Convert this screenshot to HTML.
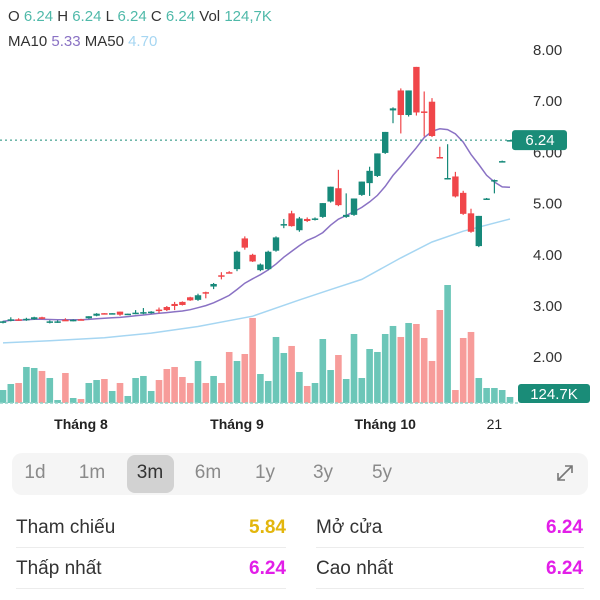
<!DOCTYPE html>
<html><head><meta charset="utf-8">
<style>
body{margin:0;width:600px;height:600px;background:#fff;font-family:"Liberation Sans",sans-serif;overflow:hidden;position:relative}
.abs{position:absolute}
.hdr{left:8px;font-size:15px;color:#333;white-space:nowrap}
.t{color:#4fb9a9}
.per{position:absolute;top:454px;font-size:19px;color:#8a8a8a;transform:translateX(-50%)}
.lab{position:absolute;font-size:19px;color:#333}
.val{position:absolute;font-size:19px;font-weight:bold;text-align:right}
.sep{position:absolute;height:1px;background:#ececec}
</style></head><body>
<div class="abs hdr" style="top:8px">O <span class="t">6.24</span> H <span class="t">6.24</span> L <span class="t">6.24</span> C <span class="t">6.24</span> Vol <span class="t">124,7K</span></div>
<div class="abs hdr" style="top:33px">MA10 <span style="color:#8a72c4">5.33</span> MA50 <span style="color:#a6d6f2">4.70</span></div>
<svg id="chart" class="abs" style="left:0;top:0" width="600" height="440"></svg>
<div class="abs" style="left:12px;top:453px;width:576px;height:42px;background:#f5f5f5;border-radius:10px"></div>
<div class="abs" style="left:127px;top:455px;width:47px;height:38px;background:#d2d2d2;border-radius:8px"></div>
<div class="per" style="left:35px;top:462px">1d</div>
<div class="per" style="left:92px;top:462px">1m</div>
<div class="per" style="left:150px;top:462px;color:#333">3m</div>
<div class="per" style="left:208px;top:462px">6m</div>
<div class="per" style="left:265px;top:462px">1y</div>
<div class="per" style="left:323px;top:462px">3y</div>
<div class="per" style="left:382px;top:462px">5y</div>
<svg class="abs" style="left:555px;top:463px" width="20" height="20"><path d="M3 17 L17 3 M10 3 H17 V10 M3 10 V17 H10" stroke="#777" stroke-width="1.6" fill="none"/></svg>
<div class="lab" style="left:16px;top:517px">Tham chiếu</div>
<div class="val" style="left:200px;width:86px;top:517px;color:#e3b60c">5.84</div>
<div class="sep" style="left:16px;top:547px;width:270px"></div>
<div class="lab" style="left:316px;top:517px">Mở cửa</div>
<div class="val" style="left:497px;width:86px;top:517px;color:#e21ee8">6.24</div>
<div class="sep" style="left:316px;top:547px;width:268px"></div>
<div class="lab" style="left:16px;top:558px">Thấp nhất</div>
<div class="val" style="left:200px;width:86px;top:558px;color:#e21ee8">6.24</div>
<div class="sep" style="left:16px;top:588px;width:270px"></div>
<div class="lab" style="left:316px;top:558px">Cao nhất</div>
<div class="val" style="left:497px;width:86px;top:558px;color:#e21ee8">6.24</div>
<div class="sep" style="left:316px;top:588px;width:268px"></div>
<script>
const opens=[2.69,2.72,2.74,2.73,2.74,2.78,2.68,2.69,2.73,2.71,2.74,2.76,2.81,2.86,2.85,2.89,2.84,2.85,2.85,2.86,2.93,2.98,3.04,3.08,3.17,3.12,3.27,3.38,3.60,3.66,3.72,4.32,4.00,3.70,3.72,4.08,4.58,4.81,4.48,4.70,4.70,4.74,5.04,5.30,4.74,4.78,5.17,5.40,5.54,5.99,6.82,7.21,6.73,7.67,6.80,6.99,5.91,5.48,5.53,5.21,4.81,4.17,5.10,5.44,5.83,6.23];
const highs=[2.71,2.78,2.76,2.77,2.79,2.79,2.72,2.72,2.76,2.74,2.75,2.80,2.86,2.86,2.86,2.89,2.85,2.92,2.96,2.90,2.97,3.00,3.08,3.09,3.18,3.24,3.28,3.45,3.66,3.68,4.08,4.36,4.02,3.83,4.08,4.36,4.70,4.86,4.74,4.73,4.73,5.01,5.33,5.66,5.20,5.10,5.43,5.72,5.98,6.40,6.88,7.25,7.21,7.67,7.19,7.06,6.11,6.16,5.62,5.25,4.90,4.76,5.11,5.47,5.84,6.24];
const lows=[2.66,2.70,2.71,2.71,2.73,2.74,2.66,2.67,2.71,2.70,2.72,2.75,2.80,2.85,2.85,2.81,2.84,2.84,2.84,2.85,2.86,2.90,2.92,3.01,3.10,3.10,3.15,3.33,3.52,3.64,3.68,4.10,3.86,3.68,3.70,4.06,4.52,4.55,4.45,4.64,4.67,4.72,5.02,4.95,4.72,4.76,5.15,5.15,5.52,5.97,6.57,6.37,6.70,6.72,6.31,6.30,5.88,5.47,5.12,4.78,4.43,4.15,5.09,5.20,5.82,6.23];
const closes=[2.70,2.74,2.73,2.75,2.78,2.75,2.70,2.70,2.72,2.73,2.73,2.80,2.85,2.85,2.86,2.83,2.85,2.87,2.88,2.89,2.91,2.92,3.00,3.02,3.11,3.21,3.26,3.43,3.58,3.64,4.06,4.14,3.87,3.81,4.06,4.34,4.60,4.56,4.71,4.66,4.71,5.01,5.33,4.97,4.78,5.10,5.43,5.64,5.98,6.40,6.86,6.73,7.21,6.78,6.78,6.32,5.90,5.50,5.14,4.80,4.45,4.76,5.10,5.46,5.83,6.24];
const volumes=[270,395,416,749,728,666,520,62,624,104,83,416,478,499,250,416,146,520,562,250,478,707,749,541,416,874,416,562,416,1061,874,1019,1768,603,458,1373,1040,1186,645,354,416,1331,686,998,499,1435,520,1123,1061,1435,1602,1373,1664,1643,1352,874,1934,2454,270,1352,1477,520,312,312,270,125];
const ma50Idx=[0,6,13,19,25,32,38,42,46,51,55,59,65];
const ma50Val=[2.28,2.32,2.38,2.47,2.60,2.80,3.12,3.32,3.52,3.94,4.25,4.46,4.70];
const yTicks=[8,7,6,5,4,3,2];
const xLabels=[["Tháng 8",10],["Tháng 9",30],["Tháng 10",49],["21",63]];
const lastPrice=6.24, lastVol="124.7K";

const svg=document.getElementById('chart');
const NS='http://www.w3.org/2000/svg';
const X=i=>3+7.8*i;
const Y=v=>50+(8-v)*51.2;
const VB=403, VS=118/2454;
const VY=v=>VB-v*VS;
function mk(tag,attrs,parent){const e=document.createElementNS(NS,tag);for(const k in attrs)e.setAttribute(k,attrs[k]);(parent||svg).appendChild(e);return e;}

yTicks.forEach(t=>{
  const tx=mk('text',{x:533,y:Y(t)+5,'font-size':15,fill:'#333','font-family':'Liberation Sans'});
  
  
  tx.textContent=t.toFixed(2);
});
xLabels.forEach(l=>{
  const tx=mk('text',{x:X(l[1]),y:429,'font-size':14,fill:'#222','font-weight':l[0]==='21'?'normal':'bold','text-anchor':'middle','font-family':'Liberation Sans'});
  
  
  tx.textContent=l[0];
});
volumes.forEach((v,i)=>{
  const up=closes[i]>=opens[i];
  const r=mk('rect',{x:X(i)-3.3,y:VY(v),width:6.6,height:v*VS,fill:up?'#6cc6b8':'#f79c9a'});
  
  
});
mk('line',{x1:0,x2:520,y1:403,y2:403,stroke:'#8fd3c8','stroke-width':1.5,'stroke-dasharray':'3,2'});
let d='';
ma50Idx.forEach((ix,k)=>{d+=(k?'L':'M')+X(ix).toFixed(1)+' '+Y(ma50Val[k]).toFixed(1);});
const m50=mk('path',{d:d,stroke:'#a6d6f2','stroke-width':1.5,fill:'none'});


d='';
closes.forEach((c,i)=>{const s=Math.max(0,i-9);let sum=0;for(let j=s;j<=i;j++)sum+=closes[j];const m=sum/(i-s+1);d+=(i?'L':'M')+X(i).toFixed(1)+' '+Y(m).toFixed(1);});
const m10=mk('path',{d:d,stroke:'#8a72c4','stroke-width':1.5,fill:'none'});


mk('line',{x1:0,x2:512,y1:Y(lastPrice),y2:Y(lastPrice),stroke:'#1a8c78','stroke-width':1,'stroke-dasharray':'2,3'});
opens.forEach((o,i)=>{
  const c=closes[i],up=c>=o,col=up?'#17897a':'#f0464a';
  const g=mk('g',{});
  
  
  mk('line',{x1:X(i),x2:X(i),y1:Y(highs[i]),y2:Y(lows[i]),stroke:col,'stroke-width':1.2},g);
  const top=Y(Math.max(o,c)),h=Math.max(1.5,Math.abs(Y(o)-Y(c)));
  mk('rect',{x:X(i)-3.2,y:top,width:6.4,height:h,fill:col},g);
});
const pb=mk('rect',{x:512,y:Y(lastPrice)-10,width:55,height:20,rx:3,fill:'#1a8c78'});


const pt=mk('text',{x:540,y:Y(lastPrice)+5,'font-size':15,fill:'#fff','text-anchor':'middle','font-family':'Liberation Sans'});
pt.textContent=lastPrice.toFixed(2);
const vb=mk('rect',{x:518,y:384,width:72,height:19,rx:3,fill:'#1a8c78'});


const vt=mk('text',{x:554,y:399,'font-size':15,fill:'#fff','text-anchor':'middle','font-family':'Liberation Sans'});
vt.textContent=lastVol;
</script>
</body></html>
